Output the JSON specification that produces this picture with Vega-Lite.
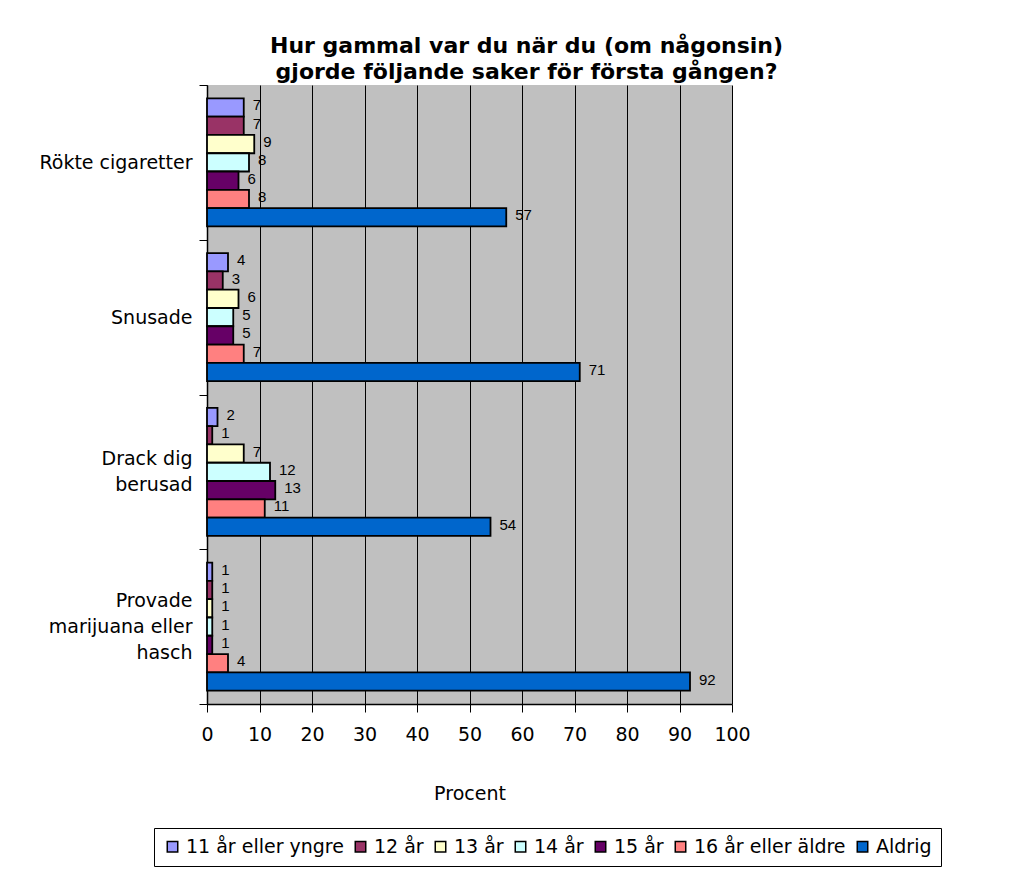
{
  "$schema": "https://vega.github.io/schema/vega-lite/v6.json",
  "autosize": "none",
  "width": 525,
  "height": 619,
  "padding": {"left": 207, "top": 85, "right": 295, "bottom": 177},
  "background": "white",
  "config": {
    "font": "DejaVu Sans",
    "view": {"fill": "#C0C0C0", "stroke": null}
  },
  "title": {
    "text": ["Hur gammal var du när du (om någonsin)", "gjorde följande saker för första gången?"],
    "fontSize": 22,
    "fontWeight": "bold",
    "font": "DejaVu Sans",
    "color": "black",
    "anchor": "middle",
    "frame": "group",
    "dx": 57,
    "offset": -8,
    "lineHeight": 26
  },
  "data": {
    "values": [
      {"activity": "Rökte cigaretter", "age": "11 år eller yngre", "percent": 7},
      {"activity": "Rökte cigaretter", "age": "12 år", "percent": 7},
      {"activity": "Rökte cigaretter", "age": "13 år", "percent": 9},
      {"activity": "Rökte cigaretter", "age": "14 år", "percent": 8},
      {"activity": "Rökte cigaretter", "age": "15 år", "percent": 6},
      {"activity": "Rökte cigaretter", "age": "16 år eller äldre", "percent": 8},
      {"activity": "Rökte cigaretter", "age": "Aldrig", "percent": 57},
      {"activity": "Snusade", "age": "11 år eller yngre", "percent": 4},
      {"activity": "Snusade", "age": "12 år", "percent": 3},
      {"activity": "Snusade", "age": "13 år", "percent": 6},
      {"activity": "Snusade", "age": "14 år", "percent": 5},
      {"activity": "Snusade", "age": "15 år", "percent": 5},
      {"activity": "Snusade", "age": "16 år eller äldre", "percent": 7},
      {"activity": "Snusade", "age": "Aldrig", "percent": 71},
      {"activity": "Drack dig berusad", "age": "11 år eller yngre", "percent": 2},
      {"activity": "Drack dig berusad", "age": "12 år", "percent": 1},
      {"activity": "Drack dig berusad", "age": "13 år", "percent": 7},
      {"activity": "Drack dig berusad", "age": "14 år", "percent": 12},
      {"activity": "Drack dig berusad", "age": "15 år", "percent": 13},
      {"activity": "Drack dig berusad", "age": "16 år eller äldre", "percent": 11},
      {"activity": "Drack dig berusad", "age": "Aldrig", "percent": 54},
      {"activity": "Provade marijuana eller hasch", "age": "11 år eller yngre", "percent": 1},
      {"activity": "Provade marijuana eller hasch", "age": "12 år", "percent": 1},
      {"activity": "Provade marijuana eller hasch", "age": "13 år", "percent": 1},
      {"activity": "Provade marijuana eller hasch", "age": "14 år", "percent": 1},
      {"activity": "Provade marijuana eller hasch", "age": "15 år", "percent": 1},
      {"activity": "Provade marijuana eller hasch", "age": "16 år eller äldre", "percent": 4},
      {"activity": "Provade marijuana eller hasch", "age": "Aldrig", "percent": 92}
    ]
  },
  "encoding": {
    "y": {
      "field": "activity",
      "type": "nominal",
      "sort": ["Rökte cigaretter", "Snusade", "Drack dig berusad", "Provade marijuana eller hasch"],
      "scale": {"paddingInner": 0, "paddingOuter": 0},
      "axis": {
        "title": null,
        "labelFontSize": 19,
        "labelColor": "black",
        "labelFont": "DejaVu Sans",
        "labelLineHeight": 26,
        "labelPadding": 7,
        "labelOffset": {
          "condition": [
            {"test": "datum.value == 'Drack dig berusad'", "value": -13},
            {"test": "datum.value == 'Provade marijuana eller hasch'", "value": -26}
          ],
          "value": 0
        },
        "tickBand": "extent",
        "tickSize": 8,
        "tickColor": "black",
        "domainColor": "black",
        "domainWidth": 1.5,
        "labelExpr": "datum.value == 'Drack dig berusad' ? ['Drack dig', 'berusad'] : datum.value == 'Provade marijuana eller hasch' ? ['Provade', 'marijuana eller', 'hasch'] : datum.value"
      }
    },
    "yOffset": {
      "field": "age",
      "type": "nominal",
      "sort": ["11 år eller yngre", "12 år", "13 år", "14 år", "15 år", "16 år eller äldre", "Aldrig"],
      "scale": {"paddingInner": 0, "paddingOuter": 0.73}
    },
    "x": {
      "field": "percent",
      "type": "quantitative",
      "scale": {"domain": [0, 100], "nice": false},
      "axis": {
        "title": "Procent",
        "titleFontSize": 19,
        "titleFontWeight": "normal",
        "titleFont": "DejaVu Sans",
        "titleColor": "black",
        "titlePadding": 40,
        "values": [0, 10, 20, 30, 40, 50, 60, 70, 80, 90, 100],
        "labelFontSize": 19,
        "labelColor": "black",
        "labelFont": "DejaVu Sans",
        "labelPadding": 13,
        "labelFlush": false,
        "tickSize": 8,
        "tickColor": "black",
        "domainColor": "black",
        "domainWidth": 1.5,
        "grid": true,
        "gridColor": "black",
        "gridOpacity": 1,
        "gridWidth": 1
      }
    }
  },
  "layer": [
    {
      "mark": {"type": "bar", "stroke": "black", "strokeWidth": 1.8},
      "encoding": {
        "color": {
          "field": "age",
          "type": "nominal",
          "sort": ["11 år eller yngre", "12 år", "13 år", "14 år", "15 år", "16 år eller äldre", "Aldrig"],
          "scale": {
            "domain": ["11 år eller yngre", "12 år", "13 år", "14 år", "15 år", "16 år eller äldre", "Aldrig"],
            "range": ["#9999FF", "#993366", "#FFFFCC", "#CCFFFF", "#660066", "#FF8080", "#0066CC"]
          },
          "legend": {
            "title": null,
            "orient": "none",
            "direction": "horizontal",
            "columns": 7,
            "legendX": -53,
            "legendY": 743,
            "strokeColor": "black",
            "padding": 9,
            "fillColor": "white",
            "symbolType": "square",
            "symbolSize": 110,
            "symbolStrokeColor": "black",
            "symbolStrokeWidth": 1.5,
            "symbolOpacity": 1,
            "labelFontSize": 19,
            "labelFont": "DejaVu Sans",
            "labelColor": "black",
            "labelOffset": 4,
            "columnPadding": 7,
            "labelLimit": 400
          }
        }
      }
    },
    {
      "mark": {"type": "text", "align": "left", "baseline": "middle", "dx": 9, "dy": -2, "fontSize": 15, "font": "Liberation Sans Narrow, Liberation Sans", "color": "black"},
      "encoding": {
        "text": {"field": "percent", "type": "quantitative"}
      }
    }
  ]
}
